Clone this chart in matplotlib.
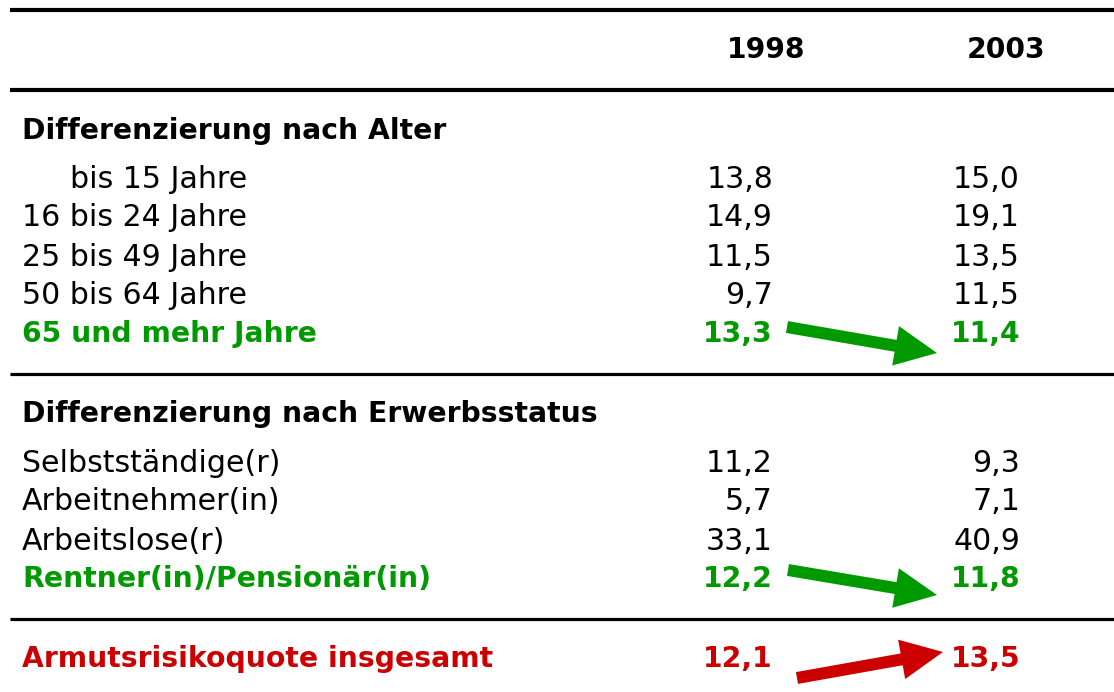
import matplotlib
matplotlib.use("Agg")
import matplotlib.pyplot as plt
from matplotlib.patches import FancyArrow

plt.rcParams['font.family'] = ['DejaVu Sans']

years = ["1998", "2003"]
age_labels = ["bis 15 Jahre", "16 bis 24 Jahre", "25 bis 49 Jahre", "50 bis 64 Jahre", "65 und mehr Jahre"]
age_1998 = [13.8, 14.9, 11.5, 9.7, 13.3]
age_2003 = [15.0, 19.1, 13.5, 11.5, 11.4]
status_labels = ["Selbstständige(r)", "Arbeitnehmer(in)", "Arbeitslose(r)", "Rentner(in)/Pensionär(in)"]
status_1998 = [11.2, 5.7, 33.1, 12.2]
status_2003 = [9.3, 7.1, 40.9, 11.8]
total_label = "Armutsrisikoquote insgesamt"
total_1998 = 12.1
total_2003 = 13.5

GREEN = "#009900"
RED = "#CC0000"
FS_B = 20.3
FS_R = 21.6

W, H = 1114, 692
fig = plt.figure(figsize=(W / 100, H / 100), dpi=100)
ax = fig.add_axes([0, 0, 1, 1])
ax.set_xlim(0, W)
ax.set_ylim(H, 0)
ax.axis("off")

def fmt(v):
    return f"{v:.1f}".replace(".", ",")

x_lab = 22
x_c1 = 773
x_c2 = 1020
dy = 1

# rules
ax.plot([10, W], [10, 10], color="black", lw=3, solid_capstyle="butt")
ax.plot([10, W], [90, 90], color="black", lw=3, solid_capstyle="butt")
ax.plot([10, W], [373.5, 373.5], color="black", lw=2.3, solid_capstyle="butt")
ax.plot([10, W], [618.5, 618.5], color="black", lw=2.3, solid_capstyle="butt")

# header
ax.text(766, 50, years[0], fontsize=FS_B, fontweight="bold", ha="center", va="center")
ax.text(1006, 50, years[1], fontsize=FS_B, fontweight="bold", ha="center", va="center")

ax.text(x_lab, 130 + dy, "Differenzierung nach Alter", fontsize=FS_B, fontweight="bold", va="center")
age_y = [178, 216, 256, 295, 333]
for i, (lab, a, b) in enumerate(zip(age_labels, age_1998, age_2003)):
    last = i == len(age_labels) - 1
    col = GREEN if last else "black"
    wt = "bold" if last else "normal"
    fs = FS_B if last else FS_R
    xl = 70 if i == 0 else x_lab
    ax.text(xl, age_y[i] + dy, lab, fontsize=fs, color=col, fontweight=wt, va="center")
    ax.text(x_c1, age_y[i] + dy, fmt(a), fontsize=fs, color=col, fontweight=wt, va="center", ha="right")
    ax.text(x_c2, age_y[i] + dy, fmt(b), fontsize=fs, color=col, fontweight=wt, va="center", ha="right")

ax.text(x_lab, 413 + dy, "Differenzierung nach Erwerbsstatus", fontsize=FS_B, fontweight="bold", va="center")
st_y = [462, 500, 540, 578]
for i, (lab, a, b) in enumerate(zip(status_labels, status_1998, status_2003)):
    last = i == len(status_labels) - 1
    col = GREEN if last else "black"
    wt = "bold" if last else "normal"
    fs = FS_B if last else FS_R
    ax.text(x_lab, st_y[i] + dy, lab, fontsize=fs, color=col, fontweight=wt, va="center")
    ax.text(x_c1, st_y[i] + dy, fmt(a), fontsize=fs, color=col, fontweight=wt, va="center", ha="right")
    ax.text(x_c2, st_y[i] + dy, fmt(b), fontsize=fs, color=col, fontweight=wt, va="center", ha="right")

ty = 658
ax.text(x_lab, ty + dy, total_label, fontsize=FS_B, color=RED, fontweight="bold", va="center")
ax.text(x_c1, ty + dy, fmt(total_1998), fontsize=FS_B, color=RED, fontweight="bold", va="center", ha="right")
ax.text(x_c2, ty + dy, fmt(total_2003), fontsize=FS_B, color=RED, fontweight="bold", va="center", ha="right")

def arrow(x0, y0, x1, y1, color):
    ax.add_patch(FancyArrow(x0, y0, x1 - x0, y1 - y0, width=12, head_width=40,
                            head_length=42, length_includes_head=True,
                            color=color, lw=0))

arrow(787, 327, 937, 353, GREEN)
arrow(788, 570, 937, 595, GREEN)
arrow(797, 678, 943, 652, RED)

fig.savefig("out.png", dpi=100)
